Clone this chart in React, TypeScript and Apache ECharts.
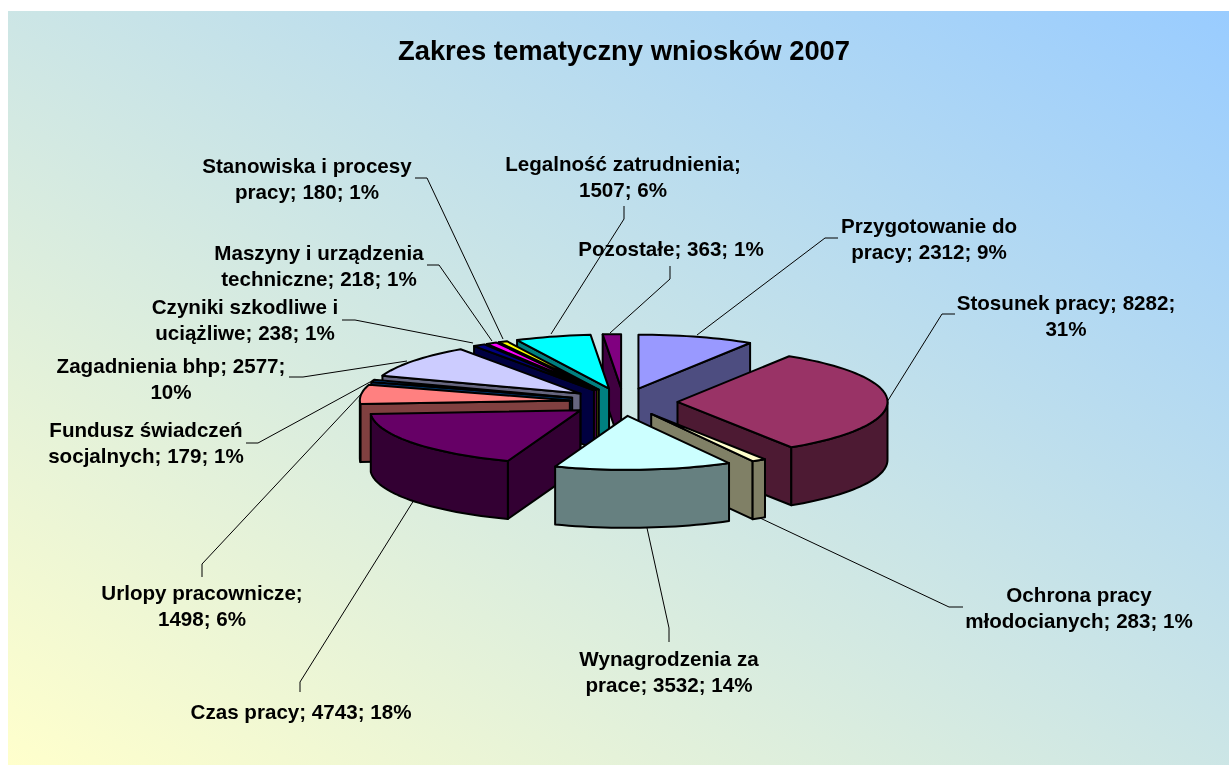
import React, { useEffect, useRef } from "react";
import * as echarts from "echarts";

const titleText = "Zakres tematyczny wniosków 2007";
const values = [2312, 8282, 283, 3532, 4743, 1498, 179, 2577, 238, 218, 180, 1507, 363];
const labelTexts = [
  "Przygotowanie do\npracy; 2312; 9%",
  "Stosunek pracy; 8282;\n31%",
  "Ochrona pracy\nmłodocianych; 283; 1%",
  "Wynagrodzenia za\nprace; 3532; 14%",
  "Czas pracy; 4743; 18%",
  "Urlopy pracownicze;\n1498; 6%",
  "Fundusz świadczeń\nsocjalnych; 179; 1%",
  "Zagadnienia bhp; 2577;\n10%",
  "Czyniki szkodliwe i\nuciążliwe; 238; 1%",
  "Maszyny i urządzenia\ntechniczne; 218; 1%",
  "Stanowiska i procesy\npracy; 180; 1%",
  "Legalność zatrudnienia;\n1507; 6%",
  "Pozostałe; 363; 1%",
];
const topColors = ["#9999FF", "#993366", "#FFFFCC", "#CCFFFF", "#660066", "#FF8080", "#0066CC", "#CCCCFF", "#000080", "#FF00FF", "#FFFF00", "#00FFFF", "#800080"];
const sideColors = ["#4D4D80", "#4D1A33", "#808066", "#668080", "#330033", "#804040", "#003366", "#666680", "#000040", "#800080", "#808000", "#008080", "#400040"];

// label anchors: centre x, centre y of first line
const labelAnchors = [
  [929, 225], [1066, 302], [1079, 594], [669, 658], [301, 711], [202, 592], [146, 429],
  [171, 365], [245, 306], [319, 252], [307, 165], [623, 163], [671, 248],
];
const leaders = [
  [[697, 335], [825, 238], [838, 238]],
  [[887, 402], [942, 314], [955, 314]],
  [[760, 518], [949, 607], [963, 607]],
  [[647, 528], [669, 628], [669, 642]],
  [[414, 500], [300, 682], [300, 692]],
  [[362, 393], [202, 564], [202, 577]],
  [[370, 382], [258, 443], [246, 443]],
  [[407, 361], [303, 377], [289, 377]],
  [[473, 343], [355, 320], [342, 320]],
  [[492, 341], [439, 265], [427, 265]],
  [[503, 339], [427, 178], [415, 178]],
  [[551, 334], [624, 219], [624, 206]],
  [[610, 333], [670, 279], [670, 266]],
];

const CX = 623.5, CY = 402, R = 210, K = 0.257, DEPTH = 58, EXPLODE = 54;
const rad = (d: number) => (d * Math.PI) / 180;
const total = values.reduce((a, b) => a + b, 0);
const spans = (() => {
  let c = 0;
  return values.map((v) => {
    const s = (c / total) * 360;
    c += v;
    return [s, (c / total) * 360];
  });
})();
const paintOrder = values
  .map((_, i) => i)
  .sort((a, b) => Math.cos(rad((spans[b][0] + spans[b][1]) / 2)) - Math.cos(rad((spans[a][0] + spans[a][1]) / 2)));

function renderSlice(_: any, api: any) {
  const i = api.value(0);
  const [s, e] = spans[i];
  const mid = rad((s + e) / 2);
  const ax = CX + EXPLODE * Math.sin(mid);
  const ay = CY - EXPLODE * K * Math.cos(mid);
  const pt = (t: number, d = 0) => [ax + R * Math.sin(rad(t)), ay - R * K * Math.cos(rad(t)) + d];
  const arc = (a: number, b: number, d = 0) => {
    const n = Math.max(2, Math.ceil((b - a) / 2));
    const out: number[][] = [];
    for (let j = 0; j <= n; j++) out.push(pt(a + ((b - a) * j) / n, d));
    return out;
  };
  const style = (fill: string) => ({ fill, stroke: "#000", lineWidth: 2, lineJoin: "round" });
  const children: any[] = [];
  const wall = (t: number) =>
    children.push({
      type: "polygon",
      shape: { points: [[ax, ay], pt(t), pt(t, DEPTH), [ax, ay + DEPTH]] },
      style: style(sideColors[i]),
      silent: true,
    });
  if (Math.sin(rad(s)) < -1e-6) wall(s);
  if (Math.sin(rad(e)) > 1e-6) wall(e);
  const a = Math.max(s, 90), b = Math.min(e, 270);
  if (b > a) {
    children.push({
      type: "polygon",
      shape: { points: [...arc(a, b), ...arc(a, b, DEPTH).reverse()] },
      style: style(sideColors[i]),
      silent: true,
    });
  }
  children.push({
    type: "polygon",
    shape: { points: [[ax, ay], ...arc(s, e)] },
    style: style(topColors[i]),
    silent: true,
  });
  return { type: "group", children };
}

const FONT = '"Liberation Sans", Arial, sans-serif';

export default function App() {
  const ref = useRef<HTMLDivElement>(null);
  useEffect(() => {
    const chart = echarts.init(ref.current!, null, { renderer: "svg" });
    chart.setOption({
      animation: false,
      title: {
        text: titleText,
        left: 619,
        top: 32,
        textAlign: "center",
        textStyle: { fontFamily: FONT, fontSize: 27.4, fontWeight: "bold", color: "#000" },
      },
      graphic: [
        {
          type: "rect",
          shape: { x: 8, y: 11, width: 1221, height: 754 },
          style: {
            fill: new echarts.graphic.LinearGradient(0, 1, 1, 0, [
              { offset: 0, color: "#FFFFCC" },
              { offset: 1, color: "#99CCFF" },
            ]),
          },
          silent: true,
        },
        ...leaders.map((p) => ({
          type: "polyline",
          shape: { points: p },
          style: { stroke: "#000", lineWidth: 1, fill: "none" },
          silent: true,
        })),
        ...labelTexts.map((t, i) => ({
          type: "text",
          x: labelAnchors[i][0],
          y: labelAnchors[i][1] - 13,
          z: 10,
          style: {
            text: t,
            font: `bold 20.6px ${FONT}`,
            lineHeight: 26,
            align: "center",
            verticalAlign: "top",
            fill: "#000",
          },
          silent: true,
        })),
      ],
      series: [
        {
          type: "custom",
          coordinateSystem: "none",
          renderItem: renderSlice,
          data: paintOrder.map((i) => [i]),
          silent: true,
          clip: false,
        },
      ],
    });
    return () => chart.dispose();
  }, []);
  return <div ref={ref} style={{ position: "fixed", left: 0, top: 0, width: 1229, height: 765 }} />;
}
